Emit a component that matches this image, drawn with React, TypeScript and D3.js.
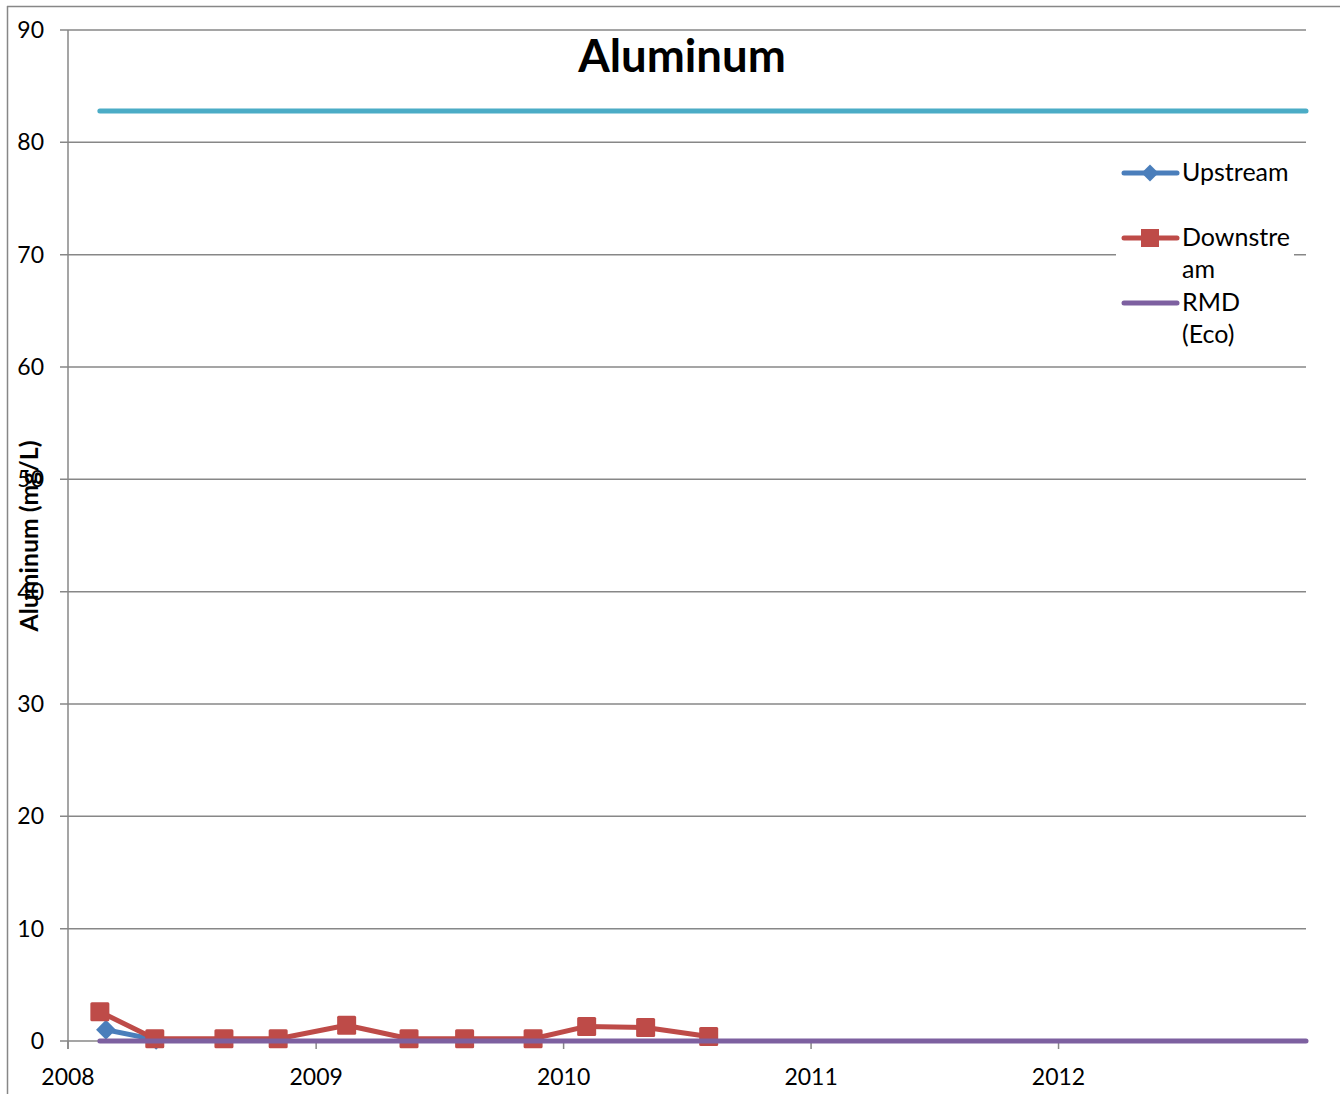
import React from "react";
import * as d3 from "d3";

const upstreamDates = ["2008-02-26", "2008-05-10"];
const upstreamValues = [1.0, 0.1];

const downstreamDates = [
  "2008-02-17", "2008-05-08", "2008-08-18", "2008-11-06", "2009-02-15",
  "2009-05-18", "2009-08-08", "2009-11-17", "2010-02-04", "2010-05-02", "2010-08-03",
];
const downstreamValues = [2.6, 0.2, 0.2, 0.2, 1.4, 0.2, 0.2, 0.2, 1.3, 1.2, 0.4];

const rmdDates = ["2008-02-17", "2012-12-31"];
const rmdValues = [0, 0];

const limitDates = ["2008-02-17", "2012-12-31"];
const limitValues = [82.8, 82.8];

const yTicks = [0, 10, 20, 30, 40, 50, 60, 70, 80, 90];
const xTickYears = [2008, 2009, 2010, 2011, 2012];

const legendItems = [
  { lines: ["Upstream"], color: "#4A7EBB", marker: "diamond" },
  { lines: ["Downstre", "am"], color: "#BE4B48", marker: "square" },
  { lines: ["RMD", "(Eco)"], color: "#7D60A0", marker: "none" },
];

const FONT = "Lato, 'Open Sans', sans-serif";

export default function App() {
  const W = 1340, H = 1094;
  const left = 68, right = 1306, top = 30, bottom = 1041;
  const parse = d3.timeParse("%Y-%m-%d");
  const x = d3.scaleTime().domain([new Date(2008, 0, 1), new Date(2012, 11, 31)]).range([left, right]);
  const y = d3.scaleLinear().domain([0, 90]).range([bottom, top]);
  const line = d3.line<[Date, number]>().x(d => x(d[0])).y(d => y(d[1]));
  const zip = (ds: string[], vs: number[]) => ds.map((d, i) => [parse(d) as Date, vs[i]] as [Date, number]);

  const up = zip(upstreamDates, upstreamValues);
  const down = zip(downstreamDates, downstreamValues);
  const rmd = zip(rmdDates, rmdValues);
  const lim = zip(limitDates, limitValues);
  const grid = "#878787";

  return (
    <svg width={W} height={H} style={{ display: "block", position: "absolute", left: 0, top: 0 }} fontFamily={FONT}>
      <rect x={0} y={0} width={W} height={H} fill="#fff" />
      {/* outer frame */}
      <line x1={7} y1={6.5} x2={W} y2={6.5} stroke={grid} strokeWidth={1.5} />
      <line x1={7.5} y1={6} x2={7.5} y2={H} stroke={grid} strokeWidth={1.5} />
      {/* gridlines */}
      {yTicks.map(t => (
        <g key={t}>
          <line x1={left - 8} x2={right} y1={y(t)} y2={y(t)} stroke={grid} strokeWidth={1.5} />
          <text x={44} y={y(t) + 8} fontSize={23} textAnchor="end" fill="#000">{t}</text>
        </g>
      ))}
      <line x1={left} x2={left} y1={top} y2={bottom + 8} stroke={grid} strokeWidth={1.5} />
      {xTickYears.map(yr => {
        const xx = x(new Date(yr, 0, 1));
        return (
          <g key={yr}>
            <line x1={xx} x2={xx} y1={bottom} y2={bottom + 8} stroke={grid} strokeWidth={1.5} />
            <text x={xx} y={1085} fontSize={23} textAnchor="middle" fill="#000">{yr}</text>
          </g>
        );
      })}
      {/* title */}
      <text x={682} y={72} fontSize={45.5} fontWeight="bold" textAnchor="middle" fill="#000">Aluminum</text>
      {/* y axis title */}
      <text transform={`translate(38,536) rotate(-90)`} fontSize={24.8} fontWeight="bold" textAnchor="middle" fill="#000">Aluminum (mg/L)</text>
      {/* series */}
      <path d={line(lim) || ""} fill="none" stroke="#4BACC6" strokeWidth={5} strokeLinecap="round" />
      <path d={line(up) || ""} fill="none" stroke="#4A7EBB" strokeWidth={5} strokeLinejoin="round" />
      {up.map((d, i) => (
        <rect key={i} x={-7} y={-7} width={14} height={14} fill="#4A7EBB"
          transform={`translate(${x(d[0])},${y(d[1])}) rotate(45)`} />
      ))}
      <path d={line(down) || ""} fill="none" stroke="#BE4B48" strokeWidth={5} strokeLinejoin="round" />
      {down.map((d, i) => (
        <rect key={i} x={x(d[0]) - 9.5} y={y(d[1]) - 9.5} width={19} height={19} rx={1.5} fill="#BE4B48" />
      ))}
      <path d={line(rmd) || ""} fill="none" stroke="#7D60A0" strokeWidth={5} strokeLinecap="round" />
      {/* legend */}
      <rect x={1116} y={150} width={178} height={205} fill="#fff" />
      {legendItems.map((it, i) => {
        const ly = [173, 238, 303][i];
        return (
          <g key={i}>
            <line x1={1124} x2={1177} y1={ly} y2={ly} stroke={it.color} strokeWidth={5} strokeLinecap="round" />
            {it.marker === "diamond" && (
              <rect x={-6} y={-6} width={12} height={12} fill={it.color} transform={`translate(1150,${ly}) rotate(45)`} />
            )}
            {it.marker === "square" && (
              <rect x={1141} y={ly - 9} width={18} height={18} fill={it.color} />
            )}
            <text x={1182} y={ly + 8} fontSize={25} fill="#000">
              {it.lines.map((l, j) => (
                <tspan key={j} x={1182} dy={j === 0 ? 0 : 32}>{l}</tspan>
              ))}
            </text>
          </g>
        );
      })}
    </svg>
  );
}
